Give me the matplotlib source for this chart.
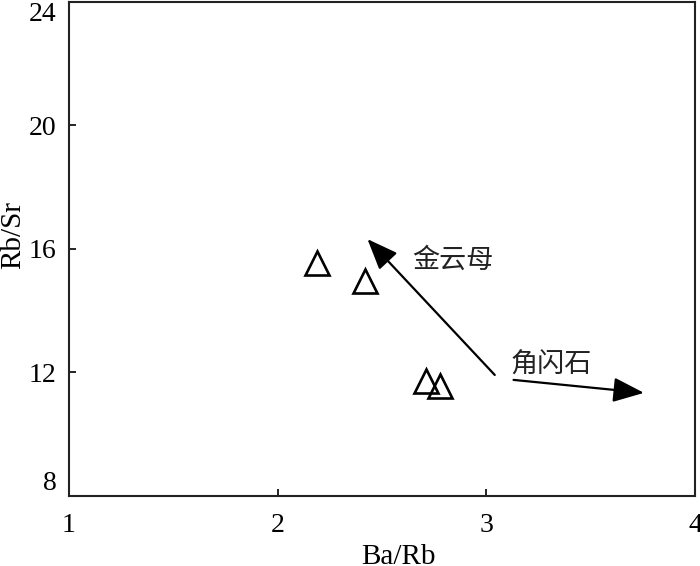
import matplotlib
matplotlib.use("Agg")
import matplotlib.pyplot as plt

# data
ba_rb = [2.19, 2.42, 2.71, 2.78]
rb_sr = [15.55, 14.96, 11.72, 11.56]
x_ticks = [1, 2, 3, 4]
y_ticks = [8, 12, 16, 20, 24]
arrow_labels = ["金云母", "角闪石"]
arrow_tails = [(3.04, 11.92), (3.13, 11.76)]
arrow_tips = [(2.43, 16.32), (3.755, 11.34)]
label_pos = [(2.84, 15.62), (3.31, 12.25)]

serif = ["Liberation Serif", "DejaVu Serif"]
cjk = ["Noto Sans CJK SC", "DejaVu Sans"]

fig = plt.figure(figsize=(7.0, 5.66), dpi=100)
ax = fig.add_axes([0.0986, 0.1237, 0.8944, 0.8728])

ax.plot(ba_rb, rb_sr, linestyle="none", marker="^", markersize=17,
        markerfacecolor="none", markeredgecolor="black", markeredgewidth=1.9)

for (tx, ty), (hx, hy) in zip(arrow_tails, arrow_tips):
    ax.annotate("", xy=(hx, hy), xytext=(tx, ty),
                arrowprops=dict(arrowstyle="-|>,head_length=0.95,head_width=0.38",
                                mutation_scale=20, lw=1.6, color="black",
                                shrinkA=0, shrinkB=0))

for lab, (lx, ly) in zip(arrow_labels, label_pos):
    ax.text(lx, ly, lab, ha="center", va="center", fontsize=19.5,
            family=cjk, fontweight="light", color="#222222")

ax.set_xlim(1, 4)
ax.set_ylim(8, 24)
ax.set_xticks(x_ticks)
ax.set_yticks(y_ticks)
ax.set_xticklabels([str(v) for v in x_ticks], family=serif, fontsize=20)
ax.set_yticklabels([str(v) for v in y_ticks], family=serif, fontsize=20)
ylabs = ax.get_yticklabels()
ylabs[0].set_verticalalignment("bottom")
ylabs[-1].set_verticalalignment("top")
ax.tick_params(direction="in", length=5, width=1.2, pad=9)
ax.tick_params(axis="x", pad=12)
for s in ax.spines.values():
    s.set_linewidth(1.5)
    s.set_color("#222222")

ax.set_xlabel("Ba/Rb", family=serif, fontsize=21)
ax.xaxis.set_label_coords(0.526, -0.098)
ax.set_ylabel("Rb/Sr", family=serif, fontsize=21)
ax.yaxis.set_label_coords(-0.068, 0.528)

fig.savefig("out.png", dpi=100)
